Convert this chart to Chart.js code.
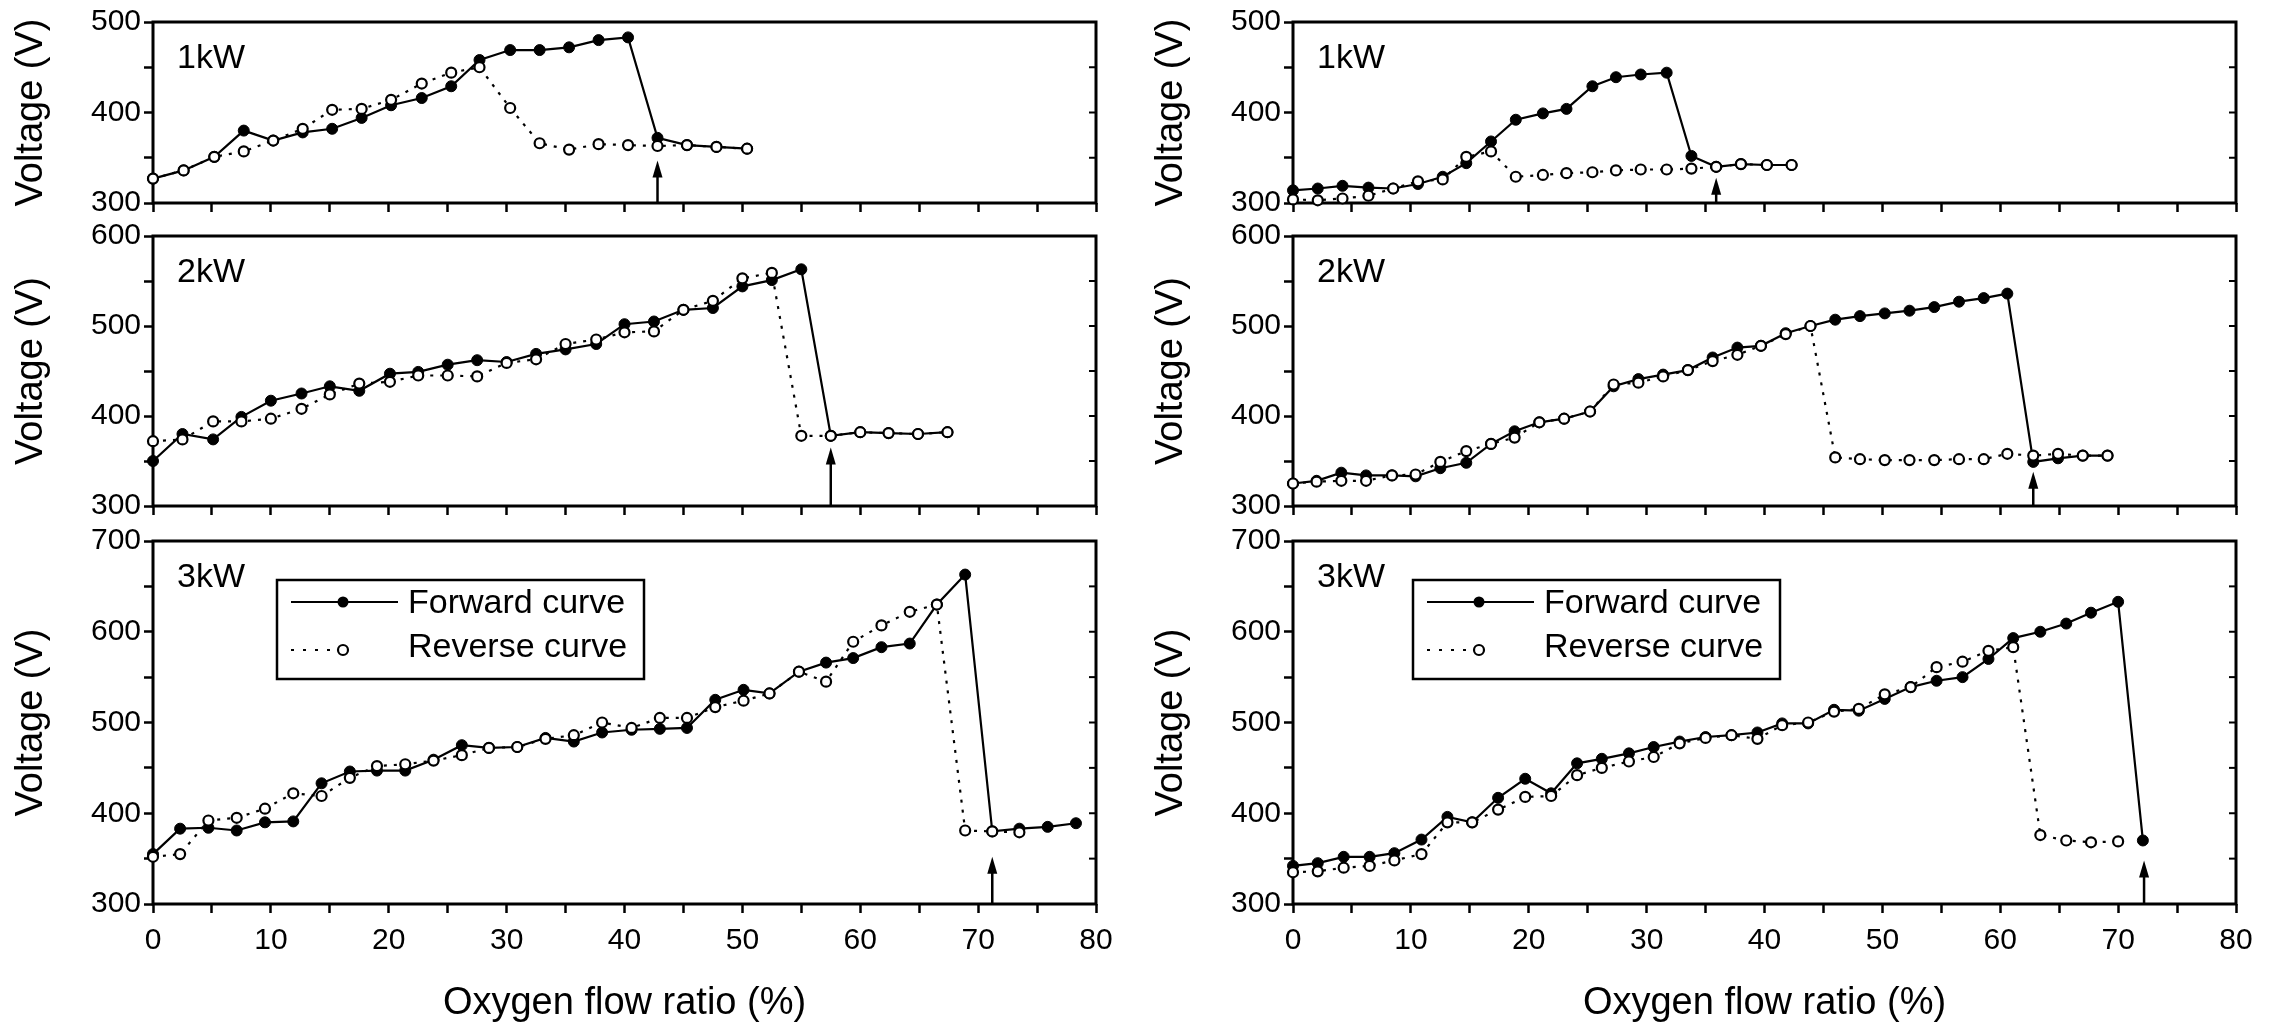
<!DOCTYPE html>
<html>
<head>
<meta charset="utf-8">
<title>Voltage vs oxygen flow ratio</title>
<script src="https://cdn.jsdelivr.net/npm/chart.js@4.4.1/dist/chart.umd.min.js"></script>
<style>
    html, body { margin: 0; padding: 0; background: #fff; }
    #wrap { position: relative; width: 2280px; height: 1031px; overflow: hidden; }
    #wrap canvas { position: absolute; }
</style>
</head>
<body>
<div id="wrap"></div>
<script>
// ---- values ----
const xTitle = 'Oxygen flow ratio (%)';
const yTitle = 'Voltage (V)';
const powerLabels = ['1kW', '2kW', '3kW'];
const legendLabels = ['Forward curve', 'Reverse curve'];
const yMinRow = [300, 300, 300];
const yMaxRow = [500, 600, 700];

// left column, 1kW
const xL1 = [0, 2.6, 5.2, 7.7, 10.2, 12.7, 15.2, 17.7, 20.2, 22.8, 25.3, 27.7, 30.3, 32.8, 35.3, 37.8, 40.3, 42.8, 45.3, 47.8, 50.4];
const fwdL1 = [327, 336, 351, 380, 369, 378, 382, 394, 408, 416, 429, 458, 469, 469, 472, 480, 483, 372, 364, 362, 360];
const revL1 = [327, 336, 351, 357, 369, 382, 403, 404, 414, 432, 444, 450, 405, 366, 359, 365, 364, 363, 364, 362, 360];

// left column, 2kW
const xL2 = [0, 2.5, 5.1, 7.5, 10, 12.6, 15, 17.5, 20.1, 22.5, 25, 27.5, 30, 32.5, 35, 37.6, 40, 42.5, 45, 47.5, 50, 52.5, 55, 57.5, 60, 62.4, 64.9, 67.4];
const fwdL2 = [350, 380, 374, 399, 417, 425, 433, 428, 447, 449, 457, 462, 460, 469, 474, 480, 502, 505, 518, 520, 544, 551, 563, 378, 382, 381, 380, 382];
const revL2 = [372, 374, 394, 394, 397, 408, 424, 436, 438, 445, 445, 444, 459, 463, 480, 485, 493, 494, 518, 528, 553, 559, 378, 378, 382, 381, 380, 382];

// left column, 3kW
const xL3 = [0, 2.3, 4.7, 7.1, 9.5, 11.9, 14.3, 16.7, 19.0, 21.4, 23.8, 26.2, 28.5, 30.9, 33.3, 35.7, 38.1, 40.6, 43.0, 45.3, 47.7, 50.1, 52.3, 54.8, 57.1, 59.4, 61.8, 64.2, 66.5, 68.9, 71.2, 73.5, 75.9, 78.3];
const fwdL3 = [355, 383, 384, 381, 390, 391, 433, 446, 447, 447, 459, 475, 472, 473, 483, 479, 489, 492, 493, 494, 525, 536, 532, 556, 566, 571, 583, 587, 630, 663, 380, 383, 385, 389];
const revL3 = [352, 355, 392, 395, 405, 422, 419, 439, 452, 454, 458, 464, 472, 473, 482, 486, 500, 494, 505, 505, 517, 524, 532, 556, 545, 589, 607, 622, 630, 381, 380, 379, null, null];

// right column, 1kW
const xR1 = [0, 2.1, 4.2, 6.4, 8.5, 10.6, 12.7, 14.7, 16.8, 18.9, 21.2, 23.2, 25.4, 27.4, 29.5, 31.7, 33.8, 35.9, 38.0, 40.2, 42.3];
const fwdR1 = [314, 316, 319, 317, 316, 321, 329, 344, 368, 392, 399, 404, 429, 439, 442, 444, 352, 340, 343, 342, 342];
const revR1 = [304, 303, 305, 308, 316, 324, 326, 351, 357, 329, 331, 333, 334, 336, 337, 337, 338, 340, 343, 342, 342];

// right column, 2kW
const xR2 = [0, 2.0, 4.1, 6.2, 8.4, 10.4, 12.5, 14.7, 16.8, 18.8, 20.9, 23.0, 25.2, 27.2, 29.3, 31.4, 33.5, 35.6, 37.7, 39.7, 41.8, 43.9, 46.0, 48.1, 50.2, 52.3, 54.4, 56.5, 58.6, 60.6, 62.8, 64.9, 67.0, 69.1];
const fwdR2 = [325, 328, 337, 334, 334, 333, 342, 348, 369, 383, 393, 397, 405, 433, 441, 446, 451, 465, 476, 478, 492, 500, 507, 511, 514, 517, 521, 527, 531, 536, 349, 353, 356, 356];
const revR2 = [325, 327, 328, 328, 334, 335, 349, 361, 369, 376, 393, 397, 405, 435, 437, 444, 451, 461, 468, 478, 491, 500, 354, 352, 351, 351, 351, 352, 352, 358, 356, 358, 356, 356];

// right column, 3kW
const xR3 = [0, 2.1, 4.3, 6.5, 8.6, 10.9, 13.1, 15.2, 17.4, 19.7, 21.9, 24.1, 26.2, 28.5, 30.6, 32.8, 35.0, 37.2, 39.4, 41.5, 43.7, 45.9, 48.0, 50.2, 52.4, 54.6, 56.8, 59.0, 61.1, 63.4, 65.6, 67.7, 70.0, 72.1];
const fwdR3 = [342, 345, 352, 352, 356, 371, 396, 390, 417, 438, 422, 455, 460, 466, 473, 479, 484, 486, 489, 499, 499, 514, 513, 526, 539, 546, 550, 570, 593, 600, 609, 621, 633, 370];
const revR3 = [335, 336, 340, 342, 348, 355, 390, 390, 404, 418, 419, 442, 450, 457, 462, 477, 483, 486, 482, 497, 500, 512, 515, 531, 539, 561, 567, 579, 583, 376, 370, 368, 369, null];

// arrows marking the transition point (x position, voltage at the arrow tip)
const arrowXLeft = [42.8, 57.5, 71.2];
const arrowTipLeft = [347, 365, 352];
const arrowXRight = [35.9, 62.8, 72.2];
const arrowTipRight = [328, 338, 348];

// ---- layout ----
Chart.defaults.font.family = '"Liberation Sans", Arial, sans-serif';
Chart.defaults.color = '#000';

const FONT = '"Liberation Sans", Arial, sans-serif';
const colLeft = [0, 1140];
const colWidth = 1140;
const rowTop = [0, 206, 511];
const rowPadTop = [22, 30, 30];
const rowPlotH = [182, 271, 363];
const rowAxisH = [20, 20, 127];

function toPoints(xs, ys) {
    let pts = [];
    for (let i = 0; i < xs.length; i++) {
        if (ys[i] == null) continue;
        pts.push({x: xs[i], y: ys[i]});
    }
    return pts;
}

const panelDeco = {
    id: 'panelDeco',
    beforeDatasetsDraw(chart, args, opts) {
        const {ctx, chartArea: a, scales: {y}} = chart;
        ctx.save();
        ctx.strokeStyle = '#000';
        ctx.lineWidth = 3;
        ctx.strokeRect(a.left, a.top, a.right - a.left, a.bottom - a.top);
        // small inward ticks on the right side
        ctx.lineWidth = 2;
        for (let v = y.min + 50; v < y.max; v += 50) {
            let py = y.getPixelForValue(v);
            ctx.beginPath();
            ctx.moveTo(a.right, py);
            ctx.lineTo(a.right - 7, py);
            ctx.stroke();
        }
        ctx.restore();
    },
    afterDatasetsDraw(chart, args, opts) {
        const {ctx, chartArea: a, scales: {x, y}} = chart;
        ctx.save();
        ctx.fillStyle = '#000';
        ctx.strokeStyle = '#000';
        ctx.font = '34px ' + FONT;
        ctx.textBaseline = 'middle';
        ctx.textAlign = 'left';
        ctx.fillText(opts.label, a.left + 24, a.top + 37);

        // arrow
        const ax = x.getPixelForValue(opts.arrowX);
        const tip = y.getPixelForValue(opts.arrowTip);
        ctx.lineWidth = 2.5;
        ctx.beginPath();
        ctx.moveTo(ax, a.bottom);
        ctx.lineTo(ax, tip + 10);
        ctx.stroke();
        ctx.beginPath();
        ctx.moveTo(ax, tip);
        ctx.lineTo(ax - 5, tip + 17);
        ctx.lineTo(ax + 5, tip + 17);
        ctx.closePath();
        ctx.fill();

        if (opts.legend) {
            const bx = a.left + opts.legendDx, by = a.top + 39, bw = 367, bh = 99;
            ctx.lineWidth = 2.5;
            ctx.strokeRect(bx, by, bw, bh);
            // forward
            let ry = by + 22;
            ctx.lineWidth = 2.2;
            ctx.beginPath();
            ctx.moveTo(bx + 14, ry);
            ctx.lineTo(bx + 121, ry);
            ctx.stroke();
            ctx.beginPath();
            ctx.arc(bx + 66, ry, 5.5, 0, Math.PI * 2);
            ctx.fill();
            ctx.fillText(legendLabels[0], bx + 131, ry + 2);
            // reverse
            ry = by + 70;
            ctx.setLineDash([3, 9]);
            ctx.beginPath();
            ctx.moveTo(bx + 14, ry);
            ctx.lineTo(bx + 58, ry);
            ctx.stroke();
            ctx.setLineDash([]);
            ctx.fillStyle = '#fff';
            ctx.beginPath();
            ctx.arc(bx + 66, ry, 5, 0, Math.PI * 2);
            ctx.fill();
            ctx.lineWidth = 2.2;
            ctx.stroke();
            ctx.fillStyle = '#000';
            ctx.fillText(legendLabels[1], bx + 131, ry - 2);
        }
        ctx.restore();
    }
};

const panels = [
    {col: 0, row: 0, xs: xL1, fwd: fwdL1, rev: revL1, arrowX: arrowXLeft[0], arrowTip: arrowTipLeft[0]},
    {col: 0, row: 1, xs: xL2, fwd: fwdL2, rev: revL2, arrowX: arrowXLeft[1], arrowTip: arrowTipLeft[1]},
    {col: 0, row: 2, xs: xL3, fwd: fwdL3, rev: revL3, arrowX: arrowXLeft[2], arrowTip: arrowTipLeft[2]},
    {col: 1, row: 0, xs: xR1, fwd: fwdR1, rev: revR1, arrowX: arrowXRight[0], arrowTip: arrowTipRight[0]},
    {col: 1, row: 1, xs: xR2, fwd: fwdR2, rev: revR2, arrowX: arrowXRight[1], arrowTip: arrowTipRight[1]},
    {col: 1, row: 2, xs: xR3, fwd: fwdR3, rev: revR3, arrowX: arrowXRight[2], arrowTip: arrowTipRight[2]},
];

const wrap = document.getElementById('wrap');

panels.forEach(p => {
    const r = p.row;
    const h = rowPadTop[r] + rowPlotH[r] + rowAxisH[r];
    const canvas = document.createElement('canvas');
    canvas.width = colWidth;
    canvas.height = h;
    canvas.style.left = colLeft[p.col] + 'px';
    canvas.style.top = rowTop[r] + 'px';
    canvas.style.width = colWidth + 'px';
    canvas.style.height = h + 'px';
    wrap.appendChild(canvas);

    const isBottom = r === 2;

    new Chart(canvas.getContext('2d'), {
        type: 'line',
        data: {
            datasets: [
                {
                    label: legendLabels[0],
                    data: toPoints(p.xs, p.fwd),
                    borderColor: '#000',
                    borderWidth: 2.2,
                    pointRadius: 5.5,
                    pointBackgroundColor: '#000',
                    pointBorderColor: '#000',
                    pointBorderWidth: 1,
                    tension: 0,
                    clip: false,
                    order: 1
                },
                {
                    label: legendLabels[1],
                    data: toPoints(p.xs, p.rev),
                    borderColor: '#000',
                    borderWidth: 2.2,
                    borderDash: [3, 7],
                    pointRadius: 5,
                    pointBackgroundColor: '#fff',
                    pointBorderColor: '#000',
                    pointBorderWidth: 2.2,
                    tension: 0,
                    clip: false,
                    order: 0
                }
            ]
        },
        options: {
            responsive: false,
            animation: false,
            devicePixelRatio: 1,
            events: [],
            layout: {
                padding: {left: 0, top: rowPadTop[r], right: colWidth - 153 - 943, bottom: 0}
            },
            plugins: {
                legend: {display: false},
                tooltip: {enabled: false},
                panelDeco: {
                    label: powerLabels[r],
                    arrowX: p.arrowX,
                    arrowTip: p.arrowTip,
                    legend: isBottom,
                    legendDx: p.col === 0 ? 124 : 120
                }
            },
            scales: {
                x: {
                    type: 'linear',
                    min: 0,
                    max: 80,
                    afterFit: s => { s.height = rowAxisH[r]; },
                    border: {display: false},
                    grid: {drawOnChartArea: false, drawTicks: true, tickLength: 9, tickWidth: 2.5, color: '#000'},
                    ticks: {
                        display: isBottom,
                        stepSize: 5,
                        autoSkip: false,
                        maxRotation: 0,
                        padding: 10,
                        color: '#000',
                        font: {size: 30},
                        callback: v => v % 10 === 0 ? v : ''
                    },
                    title: {
                        display: isBottom,
                        text: xTitle,
                        color: '#000',
                        font: {size: 38},
                        padding: {top: 0, bottom: 5}
                    }
                },
                y: {
                    type: 'linear',
                    min: yMinRow[r],
                    max: yMaxRow[r],
                    afterFit: s => { s.width = 153; },
                    border: {display: false},
                    grid: {drawOnChartArea: false, drawTicks: true, tickLength: 9, tickWidth: 2.5, color: '#000'},
                    ticks: {
                        stepSize: 50,
                        autoSkip: false,
                        padding: 3,
                        color: '#000',
                        font: {size: 30},
                        callback: v => v % 100 === 0 ? v : ''
                    },
                    title: {
                        display: true,
                        text: yTitle,
                        color: '#000',
                        font: {size: 38},
                        padding: {top: 9, bottom: 0}
                    }
                }
            }
        },
        plugins: [panelDeco]
    });
});
</script>
</body>
</html>
